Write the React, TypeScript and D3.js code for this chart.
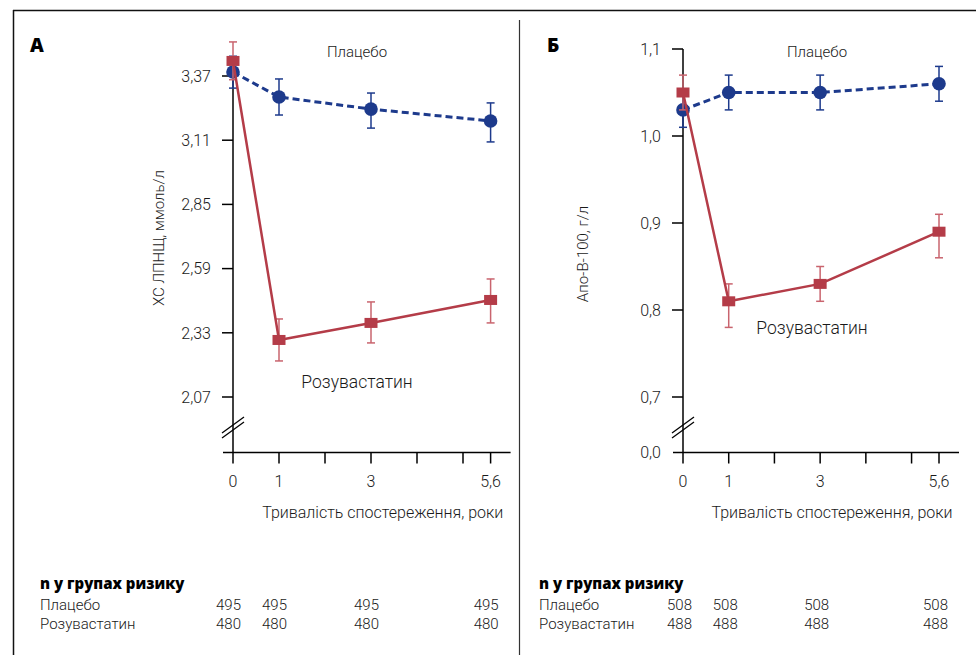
import * as d3 from 'd3'

// x positions (years of follow-up)
const years = [0, 1, 3, 5.6]
const xTickValues = [0, 1, 2, 3, 4, 5, 5.6]
const xLabelValues = [0, 1, 3, 5.6]
const xLabelText = ['0', '1', '3', '5,6']

// Panel A: LDL cholesterol, mmol/l
const ldlTicks = [2.07, 2.33, 2.59, 2.85, 3.11, 3.37]
const ldlPlacebo = [3.386, 3.285, 3.236, 3.188]
const ldlPlaceboHi = [3.45, 3.358, 3.301, 3.261]
const ldlPlaceboLo = [3.321, 3.212, 3.159, 3.103]
const ldlRosu = [3.431, 2.301, 2.37, 2.463]
const ldlRosuHi = [3.508, 2.386, 2.455, 2.548]
const ldlRosuLo = [3.355, 2.216, 2.289, 2.37]
const nPlaceboA = [495, 495, 495, 495]
const nRosuA = [480, 480, 480, 480]

// Panel B: Apo-B-100, g/l
const apoTicks = [0.7, 0.8, 0.9, 1.0, 1.1]
const apoPlacebo = [1.03, 1.05, 1.05, 1.06]
const apoPlaceboHi = [1.05, 1.07, 1.07, 1.08]
const apoPlaceboLo = [1.01, 1.03, 1.03, 1.04]
const apoRosu = [1.05, 0.81, 0.83, 0.89]
const apoRosuHi = [1.07, 0.83, 0.85, 0.91]
const apoRosuLo = [1.03, 0.78, 0.81, 0.86]
const nPlaceboB = [508, 508, 508, 508]
const nRosuB = [488, 488, 488, 488]

const BLUE = '#1d3a8c'
const RED = '#b43c48'
const RED_ERR = '#c9646e'
const FONT = 'Roboto, "Open Sans", sans-serif'
const TXT = '#1a1a1a'

type Series = { v: number[]; hi: number[]; lo: number[] }

interface PanelProps {
  letter: string
  letterX: number
  xRange: [number, number]
  yDomain: [number, number]
  yRange: [number, number]
  yTicks: number[]
  yFormat: (d: number) => string
  zeroLabel?: string
  yLabel: string
  yLabelX: number
  yLabelY: number
  placebo: Series
  rosu: Series
  placeboLabel: [number, number]
  rosuLabel: [number, number]
  tableX: number
  nPlacebo: number[]
  nRosu: number[]
  nOffset: number
}

function Panel(p: PanelProps) {
  const x = d3.scaleLinear().domain([0, 5.6]).range(p.xRange)
  const y = d3.scaleLinear().domain(p.yDomain).range(p.yRange)
  const axisX = x(0)
  const baseY = 452.5
  const breakY = 425
  const tick = 11

  const line = d3.line<number>().x((_, i) => x(years[i])).y(d => y(d))

  const errBars = (s: Series, color: string, w: number) =>
    years.map((t, i) => (
      <g key={i} stroke={color} strokeWidth={w}>
        <line x1={x(t)} x2={x(t)} y1={y(s.hi[i])} y2={y(s.lo[i])} />
        <line x1={x(t) - 4} x2={x(t) + 4} y1={y(s.hi[i])} y2={y(s.hi[i])} />
        <line x1={x(t) - 4} x2={x(t) + 4} y1={y(s.lo[i])} y2={y(s.lo[i])} />
      </g>
    ))

  return (
    <g fontFamily={FONT} fontWeight={300}>
      <text x={p.letterX} y={52} fontSize={19} fontWeight={900} fontFamily='"Open Sans", sans-serif' fill="#000">
        {p.letter}
      </text>

      {/* y axis */}
      <line x1={axisX} x2={axisX} y1={p.yRange[1]} y2={baseY} stroke="#000" strokeWidth={1.5} />
      {p.yTicks.map(t => (
        <g key={t}>
          <line x1={axisX - tick} x2={axisX} y1={y(t)} y2={y(t)} stroke="#000" strokeWidth={1.5} />
          <text x={axisX - 22} y={y(t)} dy="0.36em" textAnchor="end" fontSize={16} fill={TXT}>
            {p.yFormat(t)}
          </text>
        </g>
      ))}
      {p.zeroLabel && (
        <text x={axisX - 22} y={baseY} dy="0.36em" textAnchor="end" fontSize={16} fill={TXT}>
          {p.zeroLabel}
        </text>
      )}
      {/* axis break */}
      {[0, 5].map(o => (
        <line key={o} x1={axisX - 11} y1={breakY + 8 + o} x2={axisX + 11} y2={breakY - 8 + o}
          stroke="#000" strokeWidth={1.2} />
      ))}
      <text transform={`translate(${p.yLabelX},${p.yLabelY}) rotate(-90)`} textAnchor="middle"
        fontSize={15} fill={TXT}>
        {p.yLabel}
      </text>

      {/* x axis */}
      <line x1={axisX - 10} x2={x(5.6) + 20} y1={baseY} y2={baseY} stroke="#000" strokeWidth={1.5} />
      {xTickValues.map(t => (
        <line key={t} x1={x(t)} x2={x(t)} y1={baseY} y2={baseY + tick} stroke="#000" strokeWidth={1.5} />
      ))}
      {xLabelValues.map((t, i) => (
        <text key={t} x={x(t)} y={481} dy="0.36em" textAnchor="middle" fontSize={16} fill={TXT}>
          {xLabelText[i]}
        </text>
      ))}
      <text x={(x(0) + x(5.6)) / 2 + 21} y={512} dy="0.36em" textAnchor="middle" fontSize={16} fill={TXT}>
        Тривалість спостереження, роки
      </text>

      {/* placebo */}
      <path d={line(p.placebo.v) ?? ''} fill="none" stroke={BLUE} strokeWidth={3} strokeDasharray="7 4" />
      {errBars(p.placebo, BLUE, 1.5)}
      {p.placebo.v.map((d, i) => (
        <circle key={i} cx={x(years[i])} cy={y(d)} r={6.8} fill={BLUE} />
      ))}

      {/* rosuvastatin */}
      {errBars(p.rosu, RED_ERR, 1.5)}
      <path d={line(p.rosu.v) ?? ''} fill="none" stroke={RED} strokeWidth={2.5} />
      {p.rosu.v.map((d, i) => (
        <rect key={i} x={x(years[i]) - 6.5} y={y(d) - 5} width={13} height={10} fill={RED} />
      ))}

      <text x={p.placeboLabel[0]} y={p.placeboLabel[1]} dy="0.36em" textAnchor="middle" fontSize={15} fill={TXT}>
        Плацебо
      </text>
      <text x={p.rosuLabel[0]} y={p.rosuLabel[1]} dy="0.36em" textAnchor="middle" fontSize={17.5} fill={TXT}>
        Розувастатин
      </text>

      {/* numbers at risk */}
      <text x={p.tableX} y={584} dy="0.36em" fontSize={15} fontWeight={800} fontFamily='"Open Sans", sans-serif' fill="#000">
        n у групах ризику
      </text>
      <text x={p.tableX} y={605} dy="0.36em" fontSize={15} fill={TXT}>Плацебо</text>
      <text x={p.tableX} y={624} dy="0.36em" fontSize={15} fill={TXT}>Розувастатин</text>
      {years.map((t, i) => (
        <g key={t} fontSize={15} fill={TXT} textAnchor="end">
          <text x={x(t) + p.nOffset} y={605} dy="0.36em">{p.nPlacebo[i]}</text>
          <text x={x(t) + p.nOffset} y={624} dy="0.36em">{p.nRosu[i]}</text>
        </g>
      ))}
    </g>
  )
}

const comma = (digits: number) => (d: number) => d.toFixed(digits).replace('.', ',')

export default function App() {
  return (
    <svg width={976} height={655} style={{ position: 'absolute', left: 0, top: 0, background: '#fff' }}>
      <rect width={976} height={655} fill="#fff" />
      {/* frame */}
      <line x1={13} x2={976} y1={10.5} y2={10.5} stroke="#111" strokeWidth={1.5} />
      <line x1={13.5} x2={13.5} y1={10} y2={655} stroke="#111" strokeWidth={1.5} />
      <line x1={519.5} x2={519.5} y1={20} y2={655} stroke="#333" strokeWidth={1.2} />

      <Panel
        letter="А" letterX={30}
        xRange={[233, 490.6]} yDomain={[2.07, 3.37]} yRange={[397, 76]}
        yTicks={ldlTicks} yFormat={comma(2)}
        yLabel="ХС ЛПНЩ, ммоль/л" yLabelX={164} yLabelY={238}
        placebo={{ v: ldlPlacebo, hi: ldlPlaceboHi, lo: ldlPlaceboLo }}
        rosu={{ v: ldlRosu, hi: ldlRosuHi, lo: ldlRosuLo }}
        placeboLabel={[357, 52]} rosuLabel={[357, 382]}
        tableX={40} nPlacebo={nPlaceboA} nRosu={nRosuA} nOffset={8}
      />
      <Panel
        letter="Б" letterX={547}
        xRange={[683, 939]} yDomain={[0.7, 1.1]} yRange={[397, 49]}
        yTicks={apoTicks} yFormat={comma(1)} zeroLabel="0,0"
        yLabel="Апо-В-100, г/л" yLabelX={588} yLabelY={254}
        placebo={{ v: apoPlacebo, hi: apoPlaceboHi, lo: apoPlaceboLo }}
        rosu={{ v: apoRosu, hi: apoRosuHi, lo: apoRosuLo }}
        placeboLabel={[817, 52]} rosuLabel={[812, 328]}
        tableX={539} nPlacebo={nPlaceboB} nRosu={nRosuB} nOffset={9}
      />
    </svg>
  )
}
